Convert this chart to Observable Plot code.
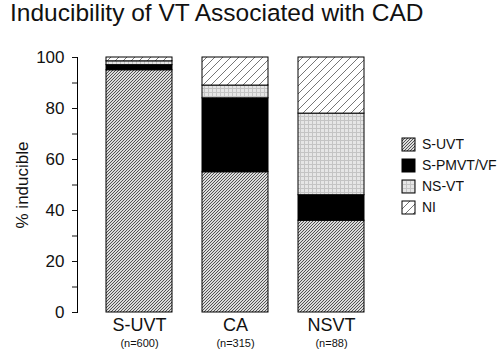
<!DOCTYPE html>
<html>
<head>
<meta charset="utf-8">
<script src="https://cdn.jsdelivr.net/npm/d3@7"></script>
<script src="https://cdn.jsdelivr.net/npm/@observablehq/plot@0.6"></script>
<style>
  body { margin: 0; background: #fff; font-family: "Liberation Sans", Arial, sans-serif; }
  #wrap { position: relative; width: 500px; height: 353px; overflow: hidden; }
  #title { position: absolute; left: 10px; top: 0px; font-size: 24.5px; line-height: 26px; color: #111; white-space: nowrap; }
  #legend { position: absolute; left: 402px; top: 136px; }
  .leg-swatch { margin-bottom: 4px; }
  .leg-swatch svg { margin-right: 7px !important; }
  .leg-swatch svg rect { stroke: #000; stroke-width: 1; }
</style>
</head>
<body>
<div id="wrap">
  <div id="title">Inducibility of VT Associated with CAD</div>
  <div id="chart"></div>
  <div id="legend"></div>
</div>
<script>
const categories = ["S-UVT", "CA", "NSVT"];
const nLabels = ["(n=600)", "(n=315)", "(n=88)"];
const series = ["S-UVT", "S-PMVT/VF", "NS-VT", "NI"];
const sUVT = [95, 55, 36];
const sPMVT = [2, 29, 10];
const nsVT = [1.5, 5, 32];
const nI = [1.5, 11, 22];
const yTicks = [0, 10, 20, 30, 40, 50, 60, 70, 80, 90, 100];
const yLabels = [0, 20, 40, 60, 80, 100];

const seriesValues = [sUVT, sPMVT, nsVT, nI];
const data = [];
categories.forEach((c, i) => {
  series.forEach((s, j) => data.push({cat: c, type: s, value: seriesValues[j][i]}));
});
const fills = ["url(#pSUVT)", "#000", "url(#pNSVT)", "url(#pNI)"];

const chart = Plot.plot({
  width: 500,
  height: 353,
  marginTop: 57,
  marginBottom: 41,
  marginLeft: 77,
  marginRight: 132,
  style: {fontFamily: "Liberation Sans, Arial, sans-serif", color: "#111", background: "transparent"},
  x: {domain: categories, range: [75, 396], padding: 0.31},
  y: {domain: [0, 100]},
  color: {domain: series, range: fills},
  marks: [
    Plot.barY(data, {x: "cat", y: "value", fill: "type", stroke: "#000", strokeWidth: 1}),
    Plot.axisY({ticks: yTicks, tickSize: 5, tickPadding: 8, fontSize: 17,
      tickFormat: d => yLabels.includes(d) ? String(d) : "",
      label: "% inducible", labelAnchor: "center", labelArrow: "none", labelOffset: 62}),
    Plot.frame({anchor: "left", stroke: "#000"}),
    Plot.axisX({tickSize: 0, tickPadding: 6, fontSize: 18, label: null}),
    Plot.text(categories, {x: d => d, text: (d, i) => nLabels[i], frameAnchor: "bottom", dy: 34, fontSize: 11}),
    Plot.ruleY([0], {stroke: "#000", x1: -1, x2: 368})
  ]
});

// pattern definitions
const defs = document.createElementNS("http://www.w3.org/2000/svg", "defs");
defs.innerHTML = `
  <pattern id="pSUVT" patternUnits="userSpaceOnUse" width="3" height="3">
    <rect width="3" height="3" fill="#dcdcdc"/>
    <path d="M-1,1 L1,-1 M0,3 L3,0 M2,4 L4,2" stroke="#3a3a3a" stroke-width="0.85"/>
  </pattern>
  <pattern id="pNSVT" patternUnits="userSpaceOnUse" width="4" height="4">
    <rect width="4" height="4" fill="#e6e6e6"/>
    <path d="M0,0.5 H4 M0.5,0 V4" stroke="#c4c4c4" stroke-width="1"/>
  </pattern>
  <pattern id="pNI" patternUnits="userSpaceOnUse" width="8" height="8">
    <rect width="8" height="8" fill="#fff"/>
    <path d="M-2,2 L2,-2 M0,8 L8,0 M6,10 L10,6" stroke="#666" stroke-width="0.9"/>
  </pattern>`;
chart.prepend(defs);
document.getElementById("chart").appendChild(chart);

const leg = Plot.legend({
  color: {domain: series, range: fills},
  columns: 1,
  swatchSize: 13,
  className: "leg",
  style: {fontFamily: "Liberation Sans, Arial, sans-serif", fontSize: "14px", color: "#111"}
});
document.getElementById("legend").appendChild(leg);
</script>
</body>
</html>
